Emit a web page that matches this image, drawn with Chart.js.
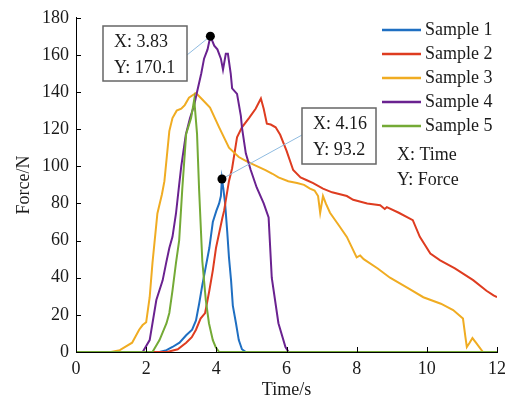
<!DOCTYPE html>
<html>
<head>
<meta charset="utf-8">
<script src="https://cdn.jsdelivr.net/npm/chart.js@4.4.0/dist/chart.umd.min.js"></script>
<style>
  body { margin: 0; background: #fff; }
  canvas { display: block; }
</style>
</head>
<body>
<canvas id="forceChart" width="512" height="403"></canvas>
<script>
// Series data (time in s, force in N)
const sample1Time = [0, 2.38, 2.58, 2.75, 2.95, 3.14, 3.31, 3.42, 3.51, 3.6, 3.7, 3.8, 3.9, 4.0, 4.08, 4.13, 4.16, 4.2, 4.25, 4.31, 4.36, 4.42, 4.47, 4.56, 4.64, 4.73, 4.84, 12];
const sample1Force = [0, 0, 1, 2.7, 5, 9, 12, 17, 26, 36, 46, 56, 70, 76, 80, 84, 93.2, 88, 80, 65, 51, 38.6, 25, 15.5, 6.4, 1.5, 0, 0];

const sample2Time = [0, 2.6, 2.9, 3.14, 3.3, 3.42, 3.55, 3.68, 3.8, 3.9, 3.99, 4.17, 4.22, 4.36, 4.45, 4.59, 4.73, 4.93, 5.12, 5.27, 5.35, 5.44, 5.55, 5.69, 5.82, 6.0, 6.19, 6.4, 6.58, 6.76, 7.04, 7.3, 7.72, 7.9, 8.3, 8.67, 8.8, 8.86, 9.2, 9.6, 9.8, 10.1, 10.38, 10.8, 11.32, 11.7, 11.9, 12];
const sample2Force = [0, 0, 1.5, 5, 8, 12, 18, 21, 33, 44, 56, 72, 76, 92, 99, 115.6, 121, 126, 131, 136.5, 131, 123, 122.5, 121, 117, 108.5, 98, 94, 92.5, 91, 88, 86, 84, 82, 80, 79, 77, 78, 75, 71, 62, 53, 49.4, 45, 38.7, 33, 30.5, 29.5];

const sample3Time = [0, 1.0, 1.25, 1.6, 1.8, 1.9, 2.0, 2.1, 2.18, 2.32, 2.45, 2.52, 2.66, 2.75, 2.87, 3.0, 3.1, 3.22, 3.42, 3.6, 3.82, 4.08, 4.36, 4.64, 4.84, 5.0, 5.4, 5.6, 5.77, 6.05, 6.3, 6.5, 6.67, 6.8, 6.9, 6.96, 7.04, 7.12, 7.24, 7.5, 7.72, 8.0, 8.1, 8.2, 8.6, 8.95, 9.5, 9.9, 10.4, 10.75, 11.03, 11.1, 11.14, 11.22, 11.3, 11.4, 11.6, 12];
const sample3Force = [0, 0, 1, 5, 12, 14.5, 16, 29.5, 48, 74.6, 85, 92, 119, 126, 130, 131, 133, 137, 139.5, 136, 131.6, 121, 110, 105, 103, 101.5, 98, 96, 94, 92, 91, 90, 88, 87, 84, 75, 84, 80, 75, 68, 62, 51, 52, 50, 45, 40, 34, 29.5, 26, 22.6, 18, 8, 2.7, 5, 7.5, 5, 0, 0];

const sample4Time = [0, 1.9, 2.1, 2.29, 2.47, 2.57, 2.66, 2.75, 2.85, 2.94, 3.0, 3.13, 3.25, 3.37, 3.45, 3.57, 3.65, 3.75, 3.83, 3.94, 4.03, 4.13, 4.19, 4.27, 4.33, 4.41, 4.45, 4.59, 4.7, 4.73, 4.84, 4.98, 5.15, 5.35, 5.49, 5.58, 5.77, 5.97, 6.06, 12];
const sample4Force = [0, 0, 6.4, 28, 38.6, 48, 56, 62, 74.6, 90, 100, 117, 126, 133, 140, 150, 158, 163, 170.1, 165, 163, 158, 152, 160.6, 160.6, 150, 142, 139, 127, 121, 107, 98, 88.6, 80, 72.5, 40, 15.5, 2.7, 0, 0];

const sample5Time = [0, 2.18, 2.38, 2.58, 2.66, 2.75, 2.85, 2.94, 3.03, 3.14, 3.28, 3.37, 3.45, 3.51, 3.6, 3.7, 3.79, 3.9, 3.98, 4.08, 12];
const sample5Force = [0, 0, 6.4, 15.5, 21, 33, 48, 60, 88, 117.5, 126, 136, 117.5, 87, 49, 28, 15.5, 6.4, 2.7, 0, 0];

const seriesLabels = ['Sample 1', 'Sample 2', 'Sample 3', 'Sample 4', 'Sample 5'];
const seriesColors = ['#1f6fc2', '#de3c20', '#f0ac22', '#6a2290', '#74aa36'];

const xTicks = [0, 2, 4, 6, 8, 10, 12];
const yTicks = [0, 20, 40, 60, 80, 100, 120, 140, 160, 180];

// Data tips shown on the figure
const tipTime = [3.83, 4.16];
const tipForce = [170.1, 93.2];

const allTimes = [sample1Time, sample2Time, sample3Time, sample4Time, sample5Time];
const allForces = [sample1Force, sample2Force, sample3Force, sample4Force, sample5Force];

const FONT = "'Liberation Serif', 'Times New Roman', serif";
const TEXT = '#1a1a1a';

const figurePlugin = {
  id: 'figureExtras',
  afterDraw(chart) {
    const ctx = chart.ctx;
    const xs = chart.scales.x;
    const ys = chart.scales.y;
    const area = chart.chartArea;

    ctx.save();
    // inward tick marks
    ctx.strokeStyle = '#000';
    ctx.lineWidth = 1;
    ctx.beginPath();
    yTicks.forEach(v => {
      const py = Math.round(ys.getPixelForValue(v)) + 0.5;
      ctx.moveTo(area.left, py);
      ctx.lineTo(area.left + 5, py);
    });
    xTicks.forEach(v => {
      const px = Math.round(xs.getPixelForValue(v)) + 0.5;
      ctx.moveTo(px, area.bottom);
      ctx.lineTo(px, area.bottom - 5);
    });
    ctx.stroke();

    // legend
    ctx.font = '18px ' + FONT;
    ctx.textBaseline = 'middle';
    ctx.fillStyle = TEXT;
    seriesLabels.forEach((label, i) => {
      const y = 30 + i * 24;
      ctx.strokeStyle = seriesColors[i];
      ctx.lineWidth = 2.5;
      ctx.beginPath();
      ctx.moveTo(382, y);
      ctx.lineTo(421, y);
      ctx.stroke();
      ctx.fillText(label, 425, y);
    });
    ctx.fillText('X: Time', 397, 155);
    ctx.fillText('Y: Force', 397, 180);

    // data tips
    const boxes = [
      { left: 103, top: 26, w: 84, h: 55, ax: 187, ay: 55 },
      { left: 302, top: 108, w: 74, h: 56, ax: 302, ay: 135 }
    ];
    tipTime.forEach((t, i) => {
      const px = xs.getPixelForValue(t);
      const py = ys.getPixelForValue(tipForce[i]);
      const b = boxes[i];
      ctx.strokeStyle = '#8fbbe0';
      ctx.lineWidth = 1;
      ctx.beginPath();
      ctx.moveTo(b.ax, b.ay);
      ctx.lineTo(px, py);
      ctx.stroke();

      ctx.fillStyle = '#fff';
      ctx.fillRect(b.left, b.top, b.w, b.h);
      ctx.strokeStyle = '#666';
      ctx.lineWidth = 1.5;
      ctx.strokeRect(b.left, b.top, b.w, b.h);
      ctx.fillStyle = TEXT;
      ctx.fillText('X: ' + t.toFixed(2), b.left + 11, b.top + 16);
      ctx.fillText('Y: ' + tipForce[i].toFixed(1), b.left + 11, b.top + 42);

      ctx.fillStyle = '#000';
      ctx.beginPath();
      ctx.arc(px, py, 4.5, 0, Math.PI * 2);
      ctx.fill();
    });
    ctx.restore();
  }
};

const ctx = document.getElementById('forceChart').getContext('2d');
const chart = new Chart(ctx, {
  type: 'line',
  data: {
    datasets: seriesLabels.map((label, i) => ({
      label: label,
      data: allTimes[i].map((t, k) => ({ x: t, y: allForces[i][k] })),
      borderColor: seriesColors[i],
      backgroundColor: seriesColors[i],
      borderWidth: 2,
      pointRadius: 0,
      tension: 0,
      fill: false,
      order: seriesLabels.length - i
    }))
  },
  options: {
    responsive: false,
    animation: false,
    devicePixelRatio: 1,
    layout: { padding: { top: 17, right: 12, left: 0, bottom: 0 } },
    plugins: {
      legend: { display: false },
      tooltip: { enabled: false }
    },
    scales: {
      x: {
        type: 'linear',
        min: 0,
        max: 12,
        afterFit: s => { s.height = 51; },
        afterBuildTicks: s => { s.ticks = xTicks.map(v => ({ value: v })); },
        grid: { display: false, drawTicks: false },
        border: { display: true, color: '#000', width: 1 },
        ticks: { font: { family: FONT, size: 18 }, color: TEXT, padding: 6, maxRotation: 0 },
        title: { display: true, text: 'Time/s', font: { family: FONT, size: 18 }, color: TEXT, padding: { top: 0, bottom: 2 } }
      },
      y: {
        min: 0,
        max: 180,
        afterFit: s => { s.width = 76; },
        afterBuildTicks: s => { s.ticks = yTicks.map(v => ({ value: v })); },
        grid: { display: false, drawTicks: false },
        border: { display: true, color: '#000', width: 1 },
        ticks: { font: { family: FONT, size: 18 }, color: TEXT, padding: 7 },
        title: { display: true, text: 'Force/N', font: { family: FONT, size: 18 }, color: TEXT, padding: { top: 13, bottom: 0 } }
      }
    }
  },
  plugins: [figurePlugin]
});
</script>
</body>
</html>
